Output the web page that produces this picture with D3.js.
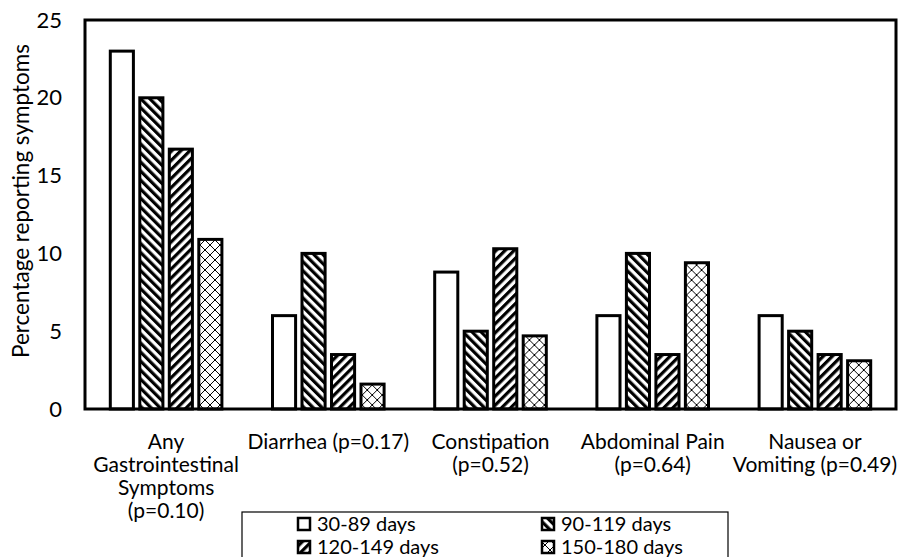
<!DOCTYPE html>
<html>
<head>
<meta charset="utf-8">
<script src="https://cdn.jsdelivr.net/npm/d3@7"></script>
<style>
  body { margin: 0; background: #fff; }
  text { font-family: Lato, "Open Sans", sans-serif; fill: #000; }
</style>
</head>
<body>
<script>
// data
const categories = ["Any Gastrointestinal Symptoms", "Diarrhea", "Constipation", "Abdominal Pain", "Nausea or Vomiting"];
const categoryLines = [
  ["Any", "Gastrointestinal", "Symptoms", "(p=0.10)"],
  ["Diarrhea (p=0.17)"],
  ["Constipation", "(p=0.52)"],
  ["Abdominal Pain", "(p=0.64)"],
  ["Nausea or", "Vomiting (p=0.49)"]
];
const series = ["30-89 days", "90-119 days", "120-149 days", "150-180 days"];
const days30to89 = [23.0, 6.0, 8.8, 6.0, 6.0];
const days90to119 = [20.0, 10.0, 5.0, 10.0, 5.0];
const days120to149 = [16.7, 3.5, 10.3, 3.5, 3.5];
const days150to180 = [10.9, 1.6, 4.7, 9.4, 3.1];
const yTicks = [0, 5, 10, 15, 20, 25];

const values = [days30to89, days90to119, days120to149, days150to180];
const patternIds = ["none", "back", "fwd", "cross"];

const W = 909, H = 557;
const plotL = 85, plotR = 896, plotT = 20, plotB = 409;

const svg = d3.select("body").append("svg")
  .attr("width", W)
  .attr("height", H);

// patterns
const defs = svg.append("defs");
defs.append("pattern")
  .attr("id", "back")
  .attr("patternUnits", "userSpaceOnUse")
  .attr("width", 6.4).attr("height", 6.4)
  .attr("patternTransform", "rotate(-45)")
  .call(p => {
    p.append("rect").attr("width", 6.4).attr("height", 6.4).attr("fill", "#fff");
    p.append("rect").attr("width", 3.2).attr("height", 6.4).attr("fill", "#000");
  });
defs.append("pattern")
  .attr("id", "fwd")
  .attr("patternUnits", "userSpaceOnUse")
  .attr("width", 6.4).attr("height", 6.4)
  .attr("patternTransform", "rotate(45)")
  .call(p => {
    p.append("rect").attr("width", 6.4).attr("height", 6.4).attr("fill", "#fff");
    p.append("rect").attr("width", 3.2).attr("height", 6.4).attr("fill", "#000");
  });
defs.append("pattern")
  .attr("id", "cross")
  .attr("patternUnits", "userSpaceOnUse")
  .attr("width", 10).attr("height", 10)
  .call(p => {
    p.append("rect").attr("width", 10).attr("height", 10).attr("fill", "#fff");
    p.append("path").attr("d", "M0,0L10,10M10,0L0,10")
      .attr("stroke", "#000").attr("stroke-width", 1).attr("fill", "none");
  });

// scales
const x0 = d3.scaleBand().domain(categories).range([plotL, plotR]);
const x1 = d3.scaleBand().domain(series)
  .range([x0.bandwidth() / 2 - 59, x0.bandwidth() / 2 + 59]);
const y = d3.scaleLinear().domain([0, 25]).range([plotB, plotT]);

// bars
const groups = svg.selectAll("g.grp")
  .data(categories)
  .join("g")
  .attr("class", "grp")
  .attr("transform", d => `translate(${x0(d)},0)`);

groups.each(function (cat, ci) {
  d3.select(this).selectAll("rect")
    .data(series)
    .join("rect")
    .attr("x", s => x1(s) + 3.2)
    .attr("width", x1.bandwidth() - 6.4)
    .attr("y", (s, si) => y(values[si][ci]))
    .attr("height", (s, si) => plotB - y(values[si][ci]))
    .attr("fill", (s, si) => si === 0 ? "#fff" : `url(#${patternIds[si]})`)
    .attr("stroke", "#000")
    .attr("stroke-width", 3);
});

// frame
svg.append("rect")
  .attr("x", plotL).attr("y", plotT)
  .attr("width", plotR - plotL).attr("height", plotB - plotT)
  .attr("fill", "none")
  .attr("stroke", "#000")
  .attr("stroke-width", 3);

// y axis
const yAxis = d3.axisLeft(y).tickValues(yTicks).tickSize(0).tickPadding(23);
svg.append("g")
  .attr("transform", `translate(${plotL},0)`)
  .call(yAxis)
  .call(g => g.select(".domain").remove())
  .selectAll("text")
  .style("font-family", "Lato, 'Open Sans', sans-serif")
  .style("font-size", "22px")
  .attr("fill", "#000");

svg.append("text")
  .attr("transform", `translate(29,201) rotate(-90)`)
  .attr("text-anchor", "middle")
  .style("font-size", "22.5px")
  .text("Percentage reporting symptoms");

// category labels
categories.forEach((c, i) => {
  const t = svg.append("text")
    .attr("x", x0(c) + x0.bandwidth() / 2)
    .attr("y", 449)
    .attr("text-anchor", "middle")
    .style("font-size", "21px");
  categoryLines[i].forEach((ln, j) => {
    t.append("tspan")
      .attr("x", x0(c) + x0.bandwidth() / 2)
      .attr("dy", j === 0 ? 0 : 23)
      .text(ln);
  });
});

// legend
svg.append("rect")
  .attr("x", 242).attr("y", 512)
  .attr("width", 486).attr("height", 60)
  .attr("fill", "#fff")
  .attr("stroke", "#000")
  .attr("stroke-width", 1.2);

const legendPos = [[298, 524], [542, 524], [298, 547], [542, 547]];
series.forEach((s, i) => {
  const [lx, ly] = legendPos[i];
  svg.append("rect")
    .attr("x", lx).attr("y", ly - 6)
    .attr("width", 12).attr("height", 12)
    .attr("fill", i === 0 ? "#fff" : `url(#${patternIds[i]})`)
    .attr("stroke", "#000")
    .attr("stroke-width", 2.5);
  svg.append("text")
    .attr("x", lx + 19).attr("y", ly + 7)
    .style("font-size", "20px")
    .text(s);
});
</script>
</body>
</html>
